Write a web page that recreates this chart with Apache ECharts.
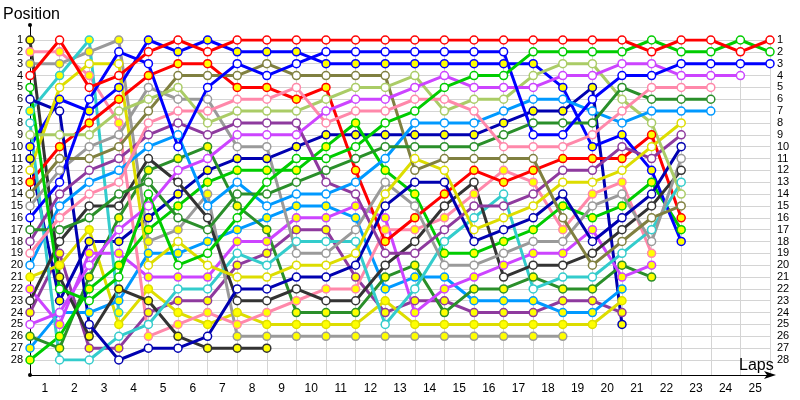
<!DOCTYPE html>
<html><head><meta charset="utf-8">
<script src="https://cdn.jsdelivr.net/npm/echarts@6/dist/echarts.min.js"></script>
<style>html,body{margin:0;padding:0;background:#fff}#c{width:800px;height:400px}</style>
</head><body><div id="c"></div>
<script>
// ---- data (positions per lap, lap 0 .. last lap) ----
const lapLabels = ['1','2','3','4','5','6','7','8','9','10','11','12','13','14','15','16','17','18','19','20','21','22','23','24','25'];
const lapCount = 25;
const posCount = 28;

const redA    = [4,1,5,4,2,1,2,1,1,1,1,1,1,1,1,1,1,1,1,1,1,2,1,1,2,1];
const greenA  = [5,22,23,21,14,20,19,16,13,11,11,10,8,7,5,4,4,2,2,2,2,1,2,2,1,2];
const blueA   = [16,13,6,2,3,10,5,3,4,3,2,2,2,2,2,2,2,9,9,6,4,4,3,3,3,3];
const violetA = [25,24,20,17,15,12,11,9,9,9,7,6,6,5,4,5,5,5,4,4,3,3,4,4,4];
const pinkA   = [19,16,14,13,8,7,7,6,6,5,8,7,7,6,6,7,10,10,10,9,7,5,5,5];
const dgreenA = [17,17,16,14,13,16,17,14,14,13,12,11,10,10,10,10,9,8,8,8,5,6,6,6];
const lblueA  = [20,15,13,12,10,9,15,13,15,14,14,13,11,8,8,8,7,6,6,7,8,7,7,7];
const yellowA = [12,5,3,3,20,18,20,21,21,20,20,19,14,11,12,17,16,15,13,13,12,10,8];
const purpleA = [18,14,12,11,9,8,9,8,8,8,13,14,19,19,17,15,15,14,12,12,10,11,9];
const navyA   = [6,7,25,28,27,27,26,22,22,21,21,20,15,13,13,18,17,16,14,18,16,14,10];
const grayA   = [15,12,10,9,5,6,6,10,10,19,19,17,13,15,20,20,19,18,18,15,14,18,11];
const blackA  = [23,18,15,15,11,13,16,23,23,22,23,23,20,18,15,13,21,20,20,19,17,15,12];
const cyanA   = [8,28,28,26,25,22,22,19,20,18,18,18,25,22,18,16,14,22,21,21,19,17,13];
const lgreenA = [9,9,9,7,6,5,8,7,7,7,6,5,5,4,7,6,6,4,3,3,6,8,14];
const oliveA  = [14,11,11,10,7,4,4,4,3,4,4,4,4,12,11,11,11,11,16,20,18,16,15];
const redB    = [13,10,8,6,4,3,3,5,5,6,5,12,18,16,14,12,13,12,11,11,11,9,16];
const greenB  = [28,26,22,20,17,15,13,12,12,12,10,8,12,14,19,19,18,17,15,16,15,13,17];
const blueB   = [10,6,7,5,1,2,1,2,2,2,3,3,3,3,3,3,3,3,5,10,9,12,18];
const pinkB   = [2,2,4,8,26,25,24,25,24,23,22,22,17,17,16,14,12,13,17,14,13,19];
const violetB = [22,25,19,19,21,21,21,18,18,16,16,15,16,24,22,21,20,19,19,17,21,20];
const dgreenB = [26,27,21,16,12,11,10,15,17,24,24,24,21,20,24,22,22,21,22,22,20,21];
const lblueB  = [27,24,24,23,19,19,18,17,16,15,15,16,22,21,21,23,23,23,24,24,22];
const yellowB = [21,20,17,25,22,24,25,24,25,25,25,25,23,25,25,25,25,25,25,25,23];
const purpleB = [24,19,27,27,24,23,23,20,19,17,17,21,24,23,23,24,24,24,23,23,24];
const navyB   = [11,23,18,18,16,14,12,11,11,10,9,9,9,9,9,9,8,7,7,5,25];
const grayB   = [3,3,2,1,18,17,14,26,26,26,26,26,26,26,26,26,26,26,26];
const blackB  = [1,21,26,22,23,26,27,27,27];
const cyanB   = [7,4,1,24];

// ---- styling ----
const drivers = [
  [purpleB,'#8e3a9e',1],[navyB,'#0000b0',1],[yellowB,'#dddd00',1],[lblueB,'#0099ff',1],
  [dgreenB,'#2a8f2a',1],[violetB,'#cc44ff',1],[pinkB,'#ff88aa',1],[grayB,'#9a9a9a',1],
  [blackB,'#333333',1],[cyanB,'#33cccc',1],[greenB,'#00cc00',1],[redB,'#ff0000',1],[blueB,'#0000ff',1],
  [cyanA,'#33cccc',0],[blackA,'#333333',0],[grayA,'#9a9a9a',0],[navyA,'#0000b0',0],
  [purpleA,'#8e3a9e',0],[yellowA,'#dddd00',0],[oliveA,'#808040',0],[lgreenA,'#aacc66',0],
  [lblueA,'#0099ff',0],[dgreenA,'#2a8f2a',0],[pinkA,'#ff88aa',0],[violetA,'#cc44ff',0],
  [blueA,'#0000ff',0],[greenA,'#00cc00',0],[redA,'#ff0000',0]
];

const FONT = 'Liberation Sans';
const gridCol = '#d4d4d4';

const series = drivers.map(([arr, col, filled]) => ({
  type: 'line',
  xAxisIndex: 0, yAxisIndex: 0,
  data: arr.map((p, i) => [i, p]),
  symbol: 'circle', symbolSize: 8,
  lineStyle: { color: col, width: 3 },
  itemStyle: { color: filled ? '#ffff00' : '#ffffff', borderColor: col, borderWidth: 1.5 },
  emphasis: { disabled: true },
  animation: false
}));

const chart = echarts.init(document.getElementById('c'), null, { renderer: 'canvas' });
chart.setOption({
  animation: false,
  backgroundColor: '#ffffff',
  textStyle: { fontFamily: FONT },
  grid: [
    { left: 30, right: 30, top: 40, bottom: 40 },
    { left: 30, right: 30, top: 40, bottom: 25 },
    { left: 30, right: 30, top: 25, bottom: 25 }
  ],
  title: [
    { text: 'Position', left: -2, top: 2, textStyle: { fontFamily: FONT, fontSize: 16, fontWeight: 'normal', color: '#000' } },
    { text: 'Laps', left: 734, top: 353, textStyle: { fontFamily: FONT, fontSize: 16, fontWeight: 'normal', color: '#000' } }
  ],
  xAxis: [
    { gridIndex: 0, type: 'value', min: 0, max: lapCount, show: false },
    { gridIndex: 1, type: 'value', min: 0, max: lapCount, interval: 1,
      axisLine: { show: false }, axisTick: { show: false }, axisLabel: { show: false },
      splitLine: { show: true, lineStyle: { color: gridCol, width: 1 } } },
    { gridIndex: 1, type: 'category', data: lapLabels, boundaryGap: true, position: 'bottom', offset: 0,
      axisLine: { show: false }, axisTick: { show: false }, splitLine: { show: false },
      axisLabel: { show: true, color: '#000', fontSize: 12, fontFamily: FONT, margin: 8 } },
    { gridIndex: 2, type: 'value', min: 0, max: lapCount, axisLabel: { show: false }, axisTick: { show: false },
      splitLine: { show: false },
      axisLine: { show: true, onZero: false, lineStyle: { color: '#000', width: 1 },
        symbol: ['none', 'arrow'], symbolSize: [6, 12], symbolOffset: [0, 6] } }
  ],
  yAxis: [
    { gridIndex: 0, type: 'value', inverse: true, min: 1, max: posCount, interval: 1, position: 'left',
      axisLine: { show: false }, axisTick: { show: false },
      axisLabel: { color: '#000', fontSize: 11, fontFamily: FONT, margin: 7 },
      splitLine: { show: true, lineStyle: { color: gridCol, width: 1 } } },
    { gridIndex: 0, type: 'value', inverse: true, min: 1, max: posCount, interval: 1, position: 'right',
      axisLine: { show: false }, axisTick: { show: false },
      axisLabel: { color: '#000', fontSize: 11, fontFamily: FONT, margin: 7 },
      splitLine: { show: false } },
    { gridIndex: 1, type: 'value', min: 0, max: 1, show: false },
    { gridIndex: 2, type: 'value', min: 0, max: 1, axisLabel: { show: false }, axisTick: { show: false },
      splitLine: { show: false },
      axisLine: { show: true, onZero: false, lineStyle: { color: '#000', width: 1 },
        symbol: ['circle', 'circle'], symbolSize: [4, 4] } }
  ],
  series: series
});
</script>
</body></html>
